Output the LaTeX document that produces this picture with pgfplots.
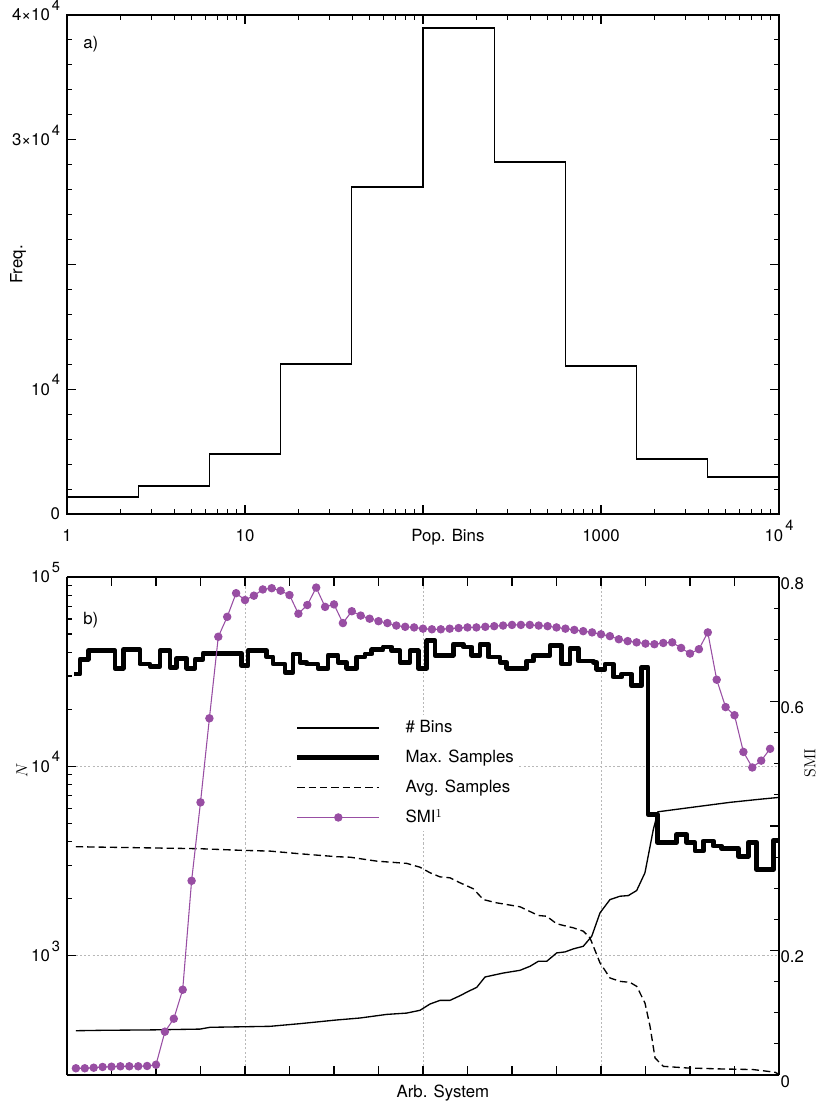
\documentclass[border=0pt]{standalone}
\usepackage[no-math]{fontspec}
\setmainfont{TeX Gyre Heros}
\usepackage{pgfplots}
\pgfplotsset{compat=1.18}
\definecolor{smi}{HTML}{984EA3}
\newcommand{\gexp}[2]{#1\hspace{1.5pt}\raisebox{0.62em}{\fontsize{11}{12}\selectfont #2}}
\pgfplotsset{
  common/.style={
    scale only axis, width=534pt,
    axis line style={line width=1.1pt},
    every tick/.style={line width=0.8pt, black},
    major tick length=6.5pt, minor tick length=3.5pt,
    tick align=inside,
    yticklabel style={inner sep=0pt, anchor=base east, xshift=-5pt, yshift=-4.5pt},
    xticklabel style={inner sep=0pt, anchor=base, yshift=-20.25pt},
  }
}
\begin{document}
\fontsize{12.6}{15}\selectfont
\begin{tikzpicture}
\path[use as bounding box] (-50.25pt,-444pt) rectangle (566.25pt,385.5pt);
% ---------------- panel a ----------------
\begin{axis}[common,
  at={(0,0)}, anchor=south west, height=374.25pt,
  xmode=log, xmin=1, xmax=10000,
  ymin=0, ymax=40000,
  xtick={1,10,100,1000,10000},
  xticklabels={1,10,,1000,\gexp{10}{4}},
  ytick={0,10000,20000,30000,40000},
  yticklabels={0,\gexp{10}{4},,\gexp{3×10}{4},\gexp{4×10}{4}},
  minor y tick num=4,
  scaled y ticks=false,
  xlabel={Pop. Bins},
  xlabel style={at={(axis description cs:0.535,0)}, anchor=base, yshift=-20.25pt, inner sep=0pt},
  ylabel={Freq.},
  ylabel style={at={(axis description cs:-0.0688,0.5)}, anchor=center},
]
\addplot[const plot, black, line width=1pt] coordinates {
 (1,1363) (2.5119,2245) (6.3096,4810) (15.849,12024) (39.811,26212)
 (100,38958) (251.19,28216) (630.96,11864) (1584.9,4409) (3981.1,2966) (10000,2966)};
\node[anchor=north west, inner sep=0pt, xshift=12pt, yshift=-16pt] at (axis description cs:0,1) {a)};
\end{axis}
% ---------------- panel b, left axis ----------------
\begin{axis}[common,
  at={(0,-47.25pt)}, anchor=north west, height=373.5pt,
  xmin=0, xmax=80, ymode=log, ymin=234, ymax=100000,
  axis y line*=left,
  xtick={0,5,...,80}, xticklabels={},
  extra x ticks={20,40,60}, extra x tick labels={},
  extra x tick style={grid=major},
  ytick={1000,10000,100000},
  yticklabels={\gexp{10}{3},\gexp{10}{4},\gexp{10}{5}},
  ymajorgrids,
  major grid style={black!28, line width=0.7pt, dash pattern=on 1.6pt off 1.6pt},
  xlabel={Arb. System},
  xlabel style={at={(axis description cs:0.528,0)}, anchor=center, yshift=-13.5pt},
  ylabel={$N$},
  ylabel style={at={(axis description cs:-0.0632,0.6124)}, anchor=center},
  legend image code/.code={\draw[mark repeat=2,mark phase=2,#1] plot coordinates {(0pt,0pt) (30.75pt,0pt) (61.5pt,0pt)};},
  legend style={draw=none, fill=white, inner sep=2pt,
    at={(axis description cs:0.316,0.723)}, anchor=north west,
    row sep=7pt, cells={anchor=west},
    /tikz/every odd column/.append style={column sep=16pt}},
]
\addplot[black, line width=1pt] coordinates {
 (1,401) (4,403) (9.5,405) (14.94,409) (16.07,418) (22.81,423) (26.18,437) (30.30,457)
 (32.92,468) (35.92,489) (38.17,497) (39.66,514) (40.79,555) (41.91,580) (43.03,580)
 (44.16,614) (45.09,647) (46.03,679) (46.97,771) (49.02,809) (50.90,836) (52.02,878)
 (52.96,933) (53.90,933) (55.02,1033) (55.96,1046) (56.89,1085) (58.01,1120) (58.96,1265)
 (59.89,1682) (61.01,1977) (62.13,2059) (63.07,2075) (64.01,2207) (64.94,2739) (65.88,4640)
 (66.40,5750) (71.12,6150) (74.49,6450) (77.87,6700) (80,6850)};
\addlegendentry{\# Bins}
\addplot[const plot, black, line width=3.6pt, line join=round] coordinates {
 (0.79,30700) (1.46,36800) (2.39,40700) (5.39,33000) (6.33,41200) (8.20,34700) (9.33,33800)
 (10.45,40700) (11.57,33400) (12.33,37200) (13.45,33000) (14.38,36800) (15.28,39600)
 (19.63,34000) (20.34,40700) (22.44,37800) (23.15,34700) (24.49,31400) (25.39,39200)
 (26.18,35500) (26.93,34700) (28.20,33000) (29.33,38600) (30.45,35500) (31.43,33000)
 (32.55,37800) (33.48,39200) (34.24,41200) (35.51,42700) (36.48,40700) (37.42,35500)
 (38.54,40700) (39.47,33000) (40.42,46000) (41.35,38600) (43.40,44200) (44.53,42700)
 (45.47,38600) (46.40,44200) (47.34,37800) (48.65,35500) (49.40,33000) (51.65,36000)
 (52.39,38600) (54.27,43300) (55.58,34700) (56.52,42100) (57.45,36000) (59.13,35500)
 (59.52,32600) (60.45,34700) (61.38,29600) (62.33,30700) (63.45,26600) (64.57,33400)
 (65.28,5570) (66.33,3970) (68.51,4360) (69.63,3950) (70.56,3570) (71.49,4030)
 (72.62,3790) (73.56,3670) (75.43,3350) (76.55,3970) (77.49,2850) (79.36,4070) (80,4070)};
\addlegendentry{Max. Samples}
\addplot[black, line width=1pt, dash pattern=on 5.5pt off 3pt] coordinates {
 (1,3760) (14.94,3670) (19.81,3595) (22.81,3565) (26.18,3450) (30.30,3330) (31.80,3310)
 (34.80,3155) (38.17,3070) (39.66,2930) (40.79,2739) (41.91,2606) (43.03,2576) (44.16,2425)
 (45.65,2255) (46.78,1977) (48.28,1900) (50.90,1811) (52.96,1629) (53.90,1614) (55.02,1472)
 (56.89,1402) (58.01,1346) (58.76,1241) (59.89,915) (61.01,762) (62.13,731) (63.26,722)
 (64.01,688) (64.94,562) (65.51,423) (66.07,288) (67.00,260) (69.63,255) (73.37,252)
 (77.11,250) (79.55,242) (80,236)};
\addlegendentry{Avg. Samples}
\addlegendimage{smi, line width=0.8pt, mark=*, mark size=2.75pt, mark options={fill=smi, draw=smi}}
\addlegendentry{SMI$^1$}
\node[anchor=north west, inner sep=0pt, xshift=12pt, yshift=-26pt] at (axis description cs:0,1) {b)};
\end{axis}
% ---------------- panel b, right axis ----------------
\begin{axis}[common,
  at={(0,-47.25pt)}, anchor=north west, height=373.5pt,
  xmin=0, xmax=80, ymin=0, ymax=0.8,
  axis y line*=right, axis x line=none,
  ytick={0,0.2,0.4,0.6,0.8},
  yticklabels={0,0.2,,0.6,0.8},
  yticklabel style={inner sep=0pt, anchor=base west, xshift=6pt, yshift=-4.5pt},
  minor y tick num=3,
  clip=false,
  ylabel={$\mathrm{SMI}$},
  ylabel style={at={(axis description cs:1.0435,0.6265)}, anchor=center},
]
\addplot[smi, line width=0.8pt, mark=*, mark size=2.75pt, mark options={fill=smi, draw=smi}] coordinates {
 (1,0.0108) (2,0.0108) (3,0.0117) (4,0.0129) (5,0.0133) (6,0.0140) (7,0.0140) (8,0.0140)
 (9,0.0145) (10,0.0165) (11,0.0696) (12,0.0904) (13,0.137) (14,0.312) (15,0.438) (16,0.573)
 (17,0.704) (18,0.736) (19,0.774) (20,0.763) (21,0.770) (22,0.780) (23,0.782) (24,0.778)
 (25,0.771) (26,0.741) (27,0.755) (28,0.783) (29,0.752) (30,0.756) (31,0.726) (32,0.745)
 (33,0.738) (34,0.733) (35,0.729) (36,0.726) (37,0.722) (38,0.720) (39,0.719) (40,0.717)
 (41,0.716) (42,0.716) (43,0.717) (44,0.718) (45,0.719) (46,0.719) (47,0.720) (48,0.721)
 (49,0.722) (50,0.723) (51,0.723) (52,0.723) (53,0.722) (54,0.721) (55,0.719) (56,0.717)
 (57,0.715) (58,0.713) (59,0.711) (60,0.708) (61,0.705) (62,0.700) (63,0.697) (64,0.695)
 (65,0.693) (66,0.692) (67,0.694) (68,0.695) (69,0.686) (70,0.677) (71,0.684) (72,0.711)
 (73,0.635) (74,0.591) (75,0.578) (76,0.519) (77,0.494) (78,0.505) (79,0.524)};
\end{axis}
\end{tikzpicture}
\end{document}
